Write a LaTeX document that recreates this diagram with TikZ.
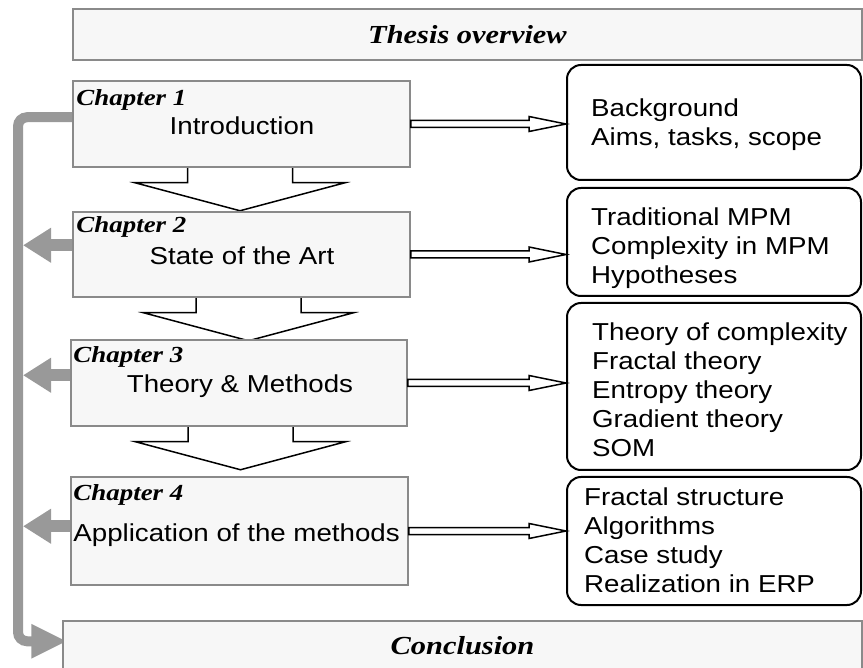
\documentclass[tikz,border=0pt]{standalone}
\usepackage{fontspec}
\usetikzlibrary{arrows.meta,calc,backgrounds}
\newfontfamily\boxfont[FakeStretch=1.13]{Liberation Sans}
\newfontfamily\headfont[FakeStretch=1.17]{Liberation Serif}
\definecolor{railgray}{RGB}{153,153,153}
\definecolor{framegray}{RGB}{138,138,138}
\definecolor{panelfill}{RGB}{247,247,247}

% hollow block arrow pointing down from one chapter panel to the next
\newcommand\drawflowdown[2]{%
  \draw[flowarrow] ($(#1.south)+(#2-52.5,0)$) -- ++(0,15) -- ++(-52.5,0)
    -- ($(#1.south)+(#2,43)$) -- ++(105,-28) -- ++(-52.5,0) -- ++(0,-15);}
% hollow double-line arrow from a chapter panel to its topic list
\newcommand\drawlink[2]{%
  \draw[linkarrow] let \p1=(#1.east), \p2=(#2.west) in
    (\x1,\y1+3.5pt) -- (\x2-37pt,\y1+3.5pt) -- (\x2-37pt,\y1+7.5pt) -- (\x2,\y1)
    -- (\x2-37pt,\y1-7.5pt) -- (\x2-37pt,\y1-3.5pt) -- (\x1,\y1-3.5pt) -- cycle;}

\begin{document}
\begin{tikzpicture}[x=1pt,y=-1pt,
  panel/.style={draw=framegray, line width=1.5pt, fill=panelfill, rectangle, inner sep=0pt},
  topic/.style={draw=black, line width=2pt, fill=white, rounded corners=14pt, inner sep=0pt, minimum width=294pt},
  chaptag/.style={font=\headfont\bfseries\itshape\fontsize{23}{27}\selectfont, inner sep=0pt, anchor=base west},
  chaptitle/.style={font=\boxfont\fontsize{24.5}{29}\selectfont, inner sep=0pt},
  topiclist/.style={font=\boxfont\fontsize{24.5}{29}\selectfont, inner sep=0pt, anchor=north west, align=left},
  bigtitle/.style={font=\headfont\bfseries\itshape\fontsize{26}{30}\selectfont},
  flowarrow/.style={draw=black, line width=1.5pt, fill=white, line join=miter},
  linkarrow/.style={draw=black, line width=1.5pt, fill=white},
  rail/.style={draw=railgray, line width=10pt, rounded corners=9pt, line cap=round,
    -{Triangle[length=36pt,width=32pt]}},
  feed/.style={draw=railgray, line width=12pt, -{Triangle[length=28pt,width=33pt]}},
]
\useasboundingbox (0,0) rectangle (863,668);

% header and footer panels
\node[panel, bigtitle, minimum width=789pt, minimum height=51pt] (overview) at (467.5,34.5) {Thesis overview};
\node[panel, bigtitle, minimum width=799pt, minimum height=50pt] (concl) at (462.5,646) {Conclusion};

% chapter panels
\node[panel, minimum width=337pt, minimum height=86pt] (c1) at (241.5,124) {};
\node[panel, minimum width=337pt, minimum height=85pt] (c2) at (241.5,254.5) {};
\node[panel, minimum width=336pt, minimum height=86pt] (c3) at (239,383) {};
\node[panel, minimum width=337pt, minimum height=108pt] (c4) at (239.5,531) {};

\node[chaptag] (t1) at ($(c1.north west)+(4,25)$) {Chapter 1};
\node[chaptitle, anchor=base] (n1) at ($(c1.north)+(0.5,54)$) {Introduction};
\node[chaptag] (t2) at ($(c2.north west)+(4,21)$) {Chapter 2};
\node[chaptitle, anchor=base] (n2) at ($(c2.north)+(0.5,53)$) {State of the Art};
\node[chaptag] (t3) at ($(c3.north west)+(3,23)$) {Chapter 3};
\node[chaptitle, anchor=base] (n3) at ($(c3.north)+(1,53)$) {Theory \& Methods};
\node[chaptag] (t4) at ($(c4.north west)+(3,24)$) {Chapter 4};
\node[chaptitle, anchor=base west] (n4) at ($(c4.north west)+(3,65)$) {Application of the methods};

% topic lists
\node[topic, minimum height=115pt] (r1) at (714,122.5) {};
\node[topic, minimum height=108pt] (r2) at (714,242) {};
\node[topic, minimum height=167pt] (r3) at (714,386.5) {};
\node[topic, minimum height=128pt] (r4) at (714,541) {};

\node[topiclist] (l1) at ($(r1.north west)+(25,34.5)$) {\rule{0pt}{18pt}Background\\Aims, tasks, scope};
\node[topiclist] (l2) at ($(r2.north west)+(25,20.5)$) {\rule{0pt}{18pt}Traditional MPM\\Complexity in MPM\\Hypotheses};
\node[topiclist] (l3) at ($(r3.north west)+(26,20.5)$) {\rule{0pt}{18pt}Theory of complexity\\Fractal theory\\Entropy theory\\Gradient theory\\SOM};
\node[topiclist] (l4) at ($(r4.north west)+(18,11.5)$) {\rule{0pt}{18pt}Fractal structure\\Algorithms\\Case study\\Realization in ERP};

% links from chapters to their topics
\drawlink{c1}{r1}
\drawlink{c2}{r2}
\drawlink{c3}{r3}
\drawlink{c4}{r4}

\begin{scope}[on background layer]
  % flow between chapters
  \drawflowdown{c1}{-1.5}
  \drawflowdown{c2}{7}
  \drawflowdown{c3}{1.5}

  % feedback rail on the left leading to the conclusion
  \coordinate (railx) at (18,0);
  \coordinate (railedge) at (23,0);
  \coordinate (railtop) at ($(c1.north west)+(0,37)$);
  \coordinate (railend) at ($(concl.north west)+(5,21)$);
  \draw[rail] (railtop) -- (railtop -| railx) -- (railend -| railx) -- (railend);

  \coordinate (f2) at ($(c2.north west)+(0,34)$);
  \coordinate (f3) at ($(c3.north west)+(0,36)$);
  \coordinate (f4) at ($(c4.north west)+(0,50)$);
  \draw[feed] (f2) -- (f2 -| railedge);
  \draw[feed] (f3) -- (f3 -| railedge);
  \draw[feed] (f4) -- (f4 -| railedge);
\end{scope}
\end{tikzpicture}
\end{document}
